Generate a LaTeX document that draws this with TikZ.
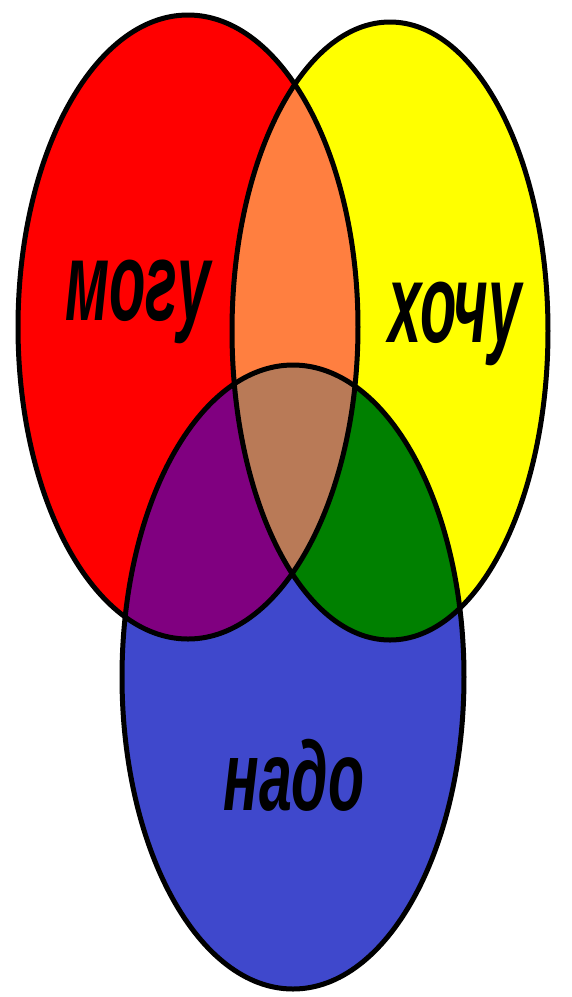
\documentclass[tikz,border=0pt]{standalone}
\usepackage{fontspec}
\setmainfont{Liberation Sans}
\definecolor{krasnyj}{HTML}{FF0000}
\definecolor{zheltyj}{HTML}{FFFF00}
\definecolor{sinij}{HTML}{3F48CC}
\definecolor{oranzhevyj}{HTML}{FF7F40}
\definecolor{fioletovyj}{HTML}{800080}
\definecolor{zelenyj}{HTML}{008000}
\definecolor{korichnevyj}{HTML}{B97A57}
\def\elMogu{(188,327) ellipse [x radius=170, y radius=312]}
\def\elHochu{(390,331) ellipse [x radius=158, y radius=309]}
\def\elNado{(293,677) ellipse [x radius=171, y radius=312]}
\begin{document}
\begin{tikzpicture}[
  x=0.1mm, y=-0.1mm,
  kontur/.style={draw=black, line width=0.5mm},
  slovo/.style={font=\fontsize{32}{32}\selectfont\bfseries\itshape, anchor=base, inner sep=0pt},
]
% tlo i ramka
\fill[white] (0,0) rectangle (572,997);
\useasboundingbox (0,0) rectangle (572,997);
% tri elipsy
\fill[krasnyj] \elMogu;
\fill[zheltyj] \elHochu;
\fill[sinij] \elNado;
% peresecheniya po dva
\begin{scope}
  \clip \elMogu;
  \fill[oranzhevyj] \elHochu;
  \fill[fioletovyj] \elNado;
\end{scope}
\begin{scope}
  \clip \elHochu;
  \fill[zelenyj] \elNado;
\end{scope}
% seredina -- vse tri
\begin{scope}
  \clip \elMogu;
  \clip \elHochu;
  \fill[korichnevyj] \elNado;
\end{scope}
% kontury
\draw[kontur] \elMogu;
\draw[kontur] \elHochu;
\draw[kontur] \elNado;
% podpisi
\node[slovo] (mogu) at (138,320) {\scalebox{0.53}[1]{могу}};
\node[slovo] (hochu) at (455,342) {\scalebox{0.53}[1]{хочу}};
\node[slovo, font=\fontsize{28}{28}\selectfont\bfseries\itshape] (nado) at (294,810) {\scalebox{0.6}[1]{надо}};
\end{tikzpicture}
\end{document}
